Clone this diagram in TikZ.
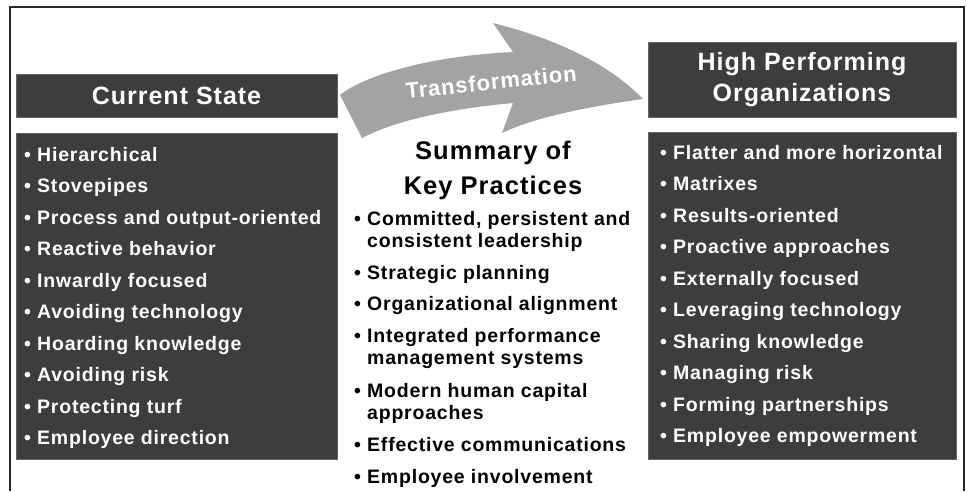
\documentclass[tikz,border=0pt]{standalone}
\usepackage{fontspec}
\setmainfont{Liberation Sans}[LetterSpace=4.0]
\definecolor{boxgray}{HTML}{3D3D3D}
\definecolor{arrowgray}{HTML}{A3A3A3}
\tikzset{
  panel/.style={fill=boxgray, draw=boxgray!80!white, line width=0.6pt},
  hdr/.style={text=white, font=\bfseries\fontsize{25}{31}\selectfont, align=center, inner sep=0pt},
  item/.style={anchor=base west, inner sep=0pt, font=\bfseries\fontsize{19.5}{22.5}\selectfont, align=left},
  ttl/.style={font=\bfseries\fontsize{25.5}{35}\selectfont, align=center, inner sep=0pt}
}
\begin{document}
\begin{tikzpicture}[x=1pt, y=-1pt]
  \useasboundingbox (0,0) rectangle (967,491);
  % frame, open at the bottom
  \draw[line width=1.3pt, black!85] (10,491) -- (10,7) -- (964,7) -- (964,491);

  % panels
  \draw[panel] (16,74) rectangle (337,117);
  \draw[panel] (16,133) rectangle (337,459);
  \draw[panel] (648,42) rectangle (956,117);
  \draw[panel] (648,132) rectangle (956,459);

  % the big curved arrow
  \fill[arrowgray] (340,95) .. controls (365,75) and (430,56) .. (513,52) -- (493,23)
    .. controls (560,40) and (610,65) .. (643,99)
    .. controls (600,105) and (540,115) .. (502,133) -- (513,103)
    .. controls (460,108) and (400,118) .. (362,138) -- cycle;
  \node[text=white, font=\bfseries\fontsize{22}{26}\selectfont, rotate=6, inner sep=0pt] (trans) at (491,82) {Transformation};

  % headers
  \node[hdr] (cur) at (176.5,96) {Current State};
  \node[hdr] (hpo) at (802,80) {High Performing\\Organizations};
  \node[ttl] (sum) at (493,170) {Summary of\\Key Practices};

  % current state list
  \foreach \t [count=\i from 0] in {Hierarchical, Stovepipes, Process and output-oriented,
      Reactive behavior, Inwardly focused, Avoiding technology, Hoarding knowledge,
      Avoiding risk, Protecting turf, Employee direction}
    \node[item, text=white] (cs\i) at (24,161+31.55*\i) {\textbullet\ \t};

  % high performing list
  \foreach \t [count=\i from 0] in {Flatter and more horizontal, Matrixes, Results-oriented,
      Proactive approaches, Externally focused, Leveraging technology, Sharing knowledge,
      Managing risk, Forming partnerships, Employee empowerment}
    \node[item, text=white] (hp\i) at (660,159+31.55*\i) {\textbullet\ \t};

  % key practices (two-line items sit on their last baseline)
  \node[item] (kp1) at (354,247.5) {\textbullet\ Committed, persistent and\\\phantom{\textbullet\ }consistent leadership};
  \node[item] (kp2) at (354,279) {\textbullet\ Strategic planning};
  \node[item] (kp3) at (354,310) {\textbullet\ Organizational alignment};
  \node[item] (kp4) at (354,364.5) {\textbullet\ Integrated performance\\\phantom{\textbullet\ }management systems};
  \node[item] (kp5) at (354,419.5) {\textbullet\ Modern human capital\\\phantom{\textbullet\ }approaches};
  \node[item] (kp6) at (354,451) {\textbullet\ Effective communications};
  \node[item] (kp7) at (354,483) {\textbullet\ Employee involvement};
\end{tikzpicture}
\end{document}
